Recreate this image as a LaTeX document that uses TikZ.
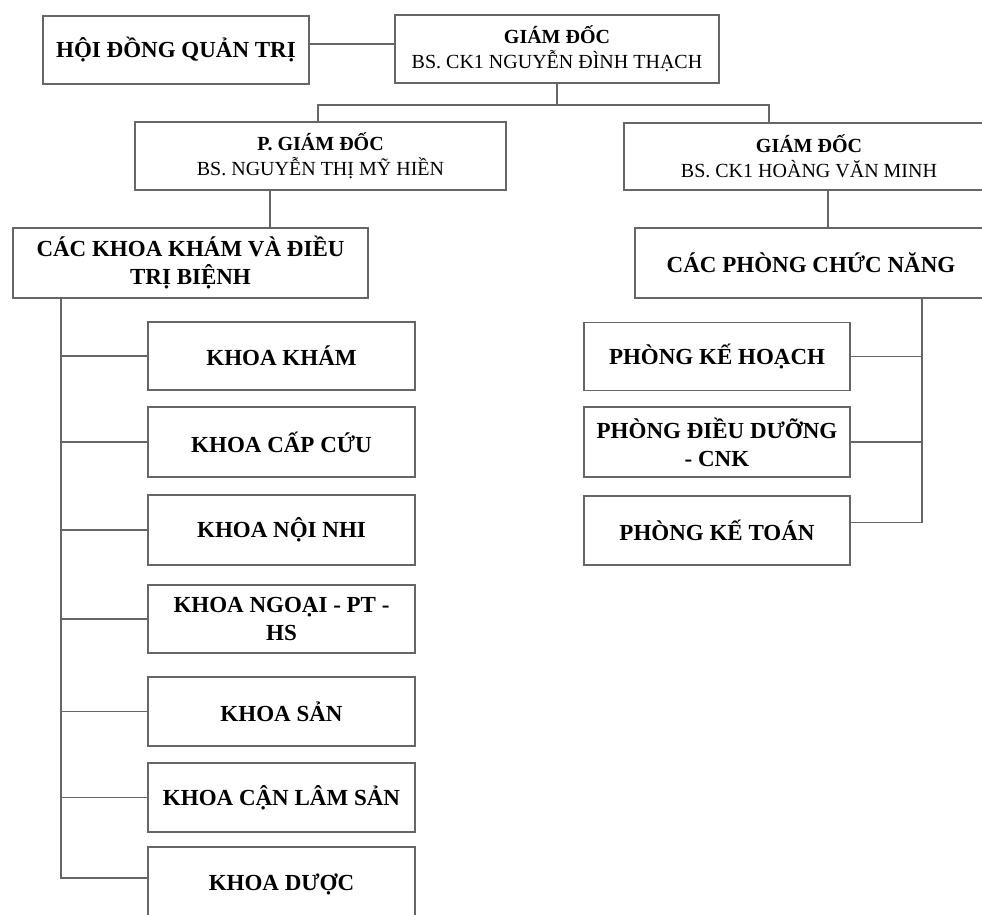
\documentclass[tikz,border=0pt]{standalone}
\usepackage{fontspec}
\setmainfont{Liberation Serif}
\tikzset{
  box/.style={draw=black!60, line width=1.3pt, inner sep=0pt, align=center, text=black},
  lead/.style={box, minimum height=68pt, font=\fontsize{20}{25}\selectfont},
  unit/.style={box, minimum width=267pt, minimum height=68pt, font=\fontsize{23}{28}\selectfont\bfseries},
  link/.style={draw=black!60, line width=1.3pt},
}
\begin{document}
\begin{tikzpicture}[x=1pt,y=-1pt]
        \useasboundingbox (0,0) rectangle (982,914);
        \clip (0,0) rectangle (982,914);

        \node[unit, minimum width=266pt] (hdqt) at (176,50) {HỘI ĐỒNG QUẢN TRỊ};
        \node[lead, minimum width=324pt] (gd) at (557,49) {\textbf{GIÁM ĐỐC}\\BS. CK1 NGUYỄN ĐÌNH THẠCH};
        \node[lead, minimum width=371pt] (pgd) at (320.5,156) {\textbf{P. GIÁM ĐỐC}\\BS. NGUYỄN THỊ MỸ HIỀN};
        \node[lead, minimum width=370pt, minimum height=67pt] (gd2) at (809,156.5) {\textbf{GIÁM ĐỐC}\\BS. CK1 HOÀNG VĂN MINH};

        \node[unit, minimum width=355pt, minimum height=70pt] (khoa) at (190.5,263) {CÁC KHOA KHÁM VÀ ĐIỀU\\TRỊ BIỆNH};
        \node[unit, minimum width=352pt, minimum height=70pt] (phong) at (811,263) {CÁC PHÒNG CHỨC NĂNG};

        % cac khoa
        \node[unit] (k1) at (281.5,356) {KHOA KHÁM};
        \node[unit, minimum height=70pt] (k2) at (281.5,442) {KHOA CẤP CỨU};
        \node[unit, minimum height=70pt] (k3) at (281.5,530) {KHOA NỘI NHI};
        \node[unit] (k4) at (281.5,619) {KHOA NGOẠI - PT -\\HS};
        \node[unit, minimum height=69pt] (k5) at (281.5,711.5) {KHOA SẢN};
        \node[unit, minimum height=69pt] (k6) at (281.5,797.5) {KHOA CẬN LÂM SẢN};
        \node[unit, minimum height=74pt] (k7) at (281.5,884) {KHOA DƯỢC};

        % cac phong
        \node[unit, minimum width=266pt] (p1) at (717,356.5) {PHÒNG KẾ HOẠCH};
        \node[unit, minimum width=266pt, minimum height=70pt] (p2) at (717,442) {PHÒNG ĐIỀU DƯỠNG\\- CNK};
        \node[unit, minimum width=266pt, minimum height=69pt] (p3) at (717,530.5) {PHÒNG KẾ TOÁN};

        \coordinate (busl) at (318,105);
        \coordinate (busr) at (769,105);
        \coordinate (kbus) at (61,298);
        \coordinate (pbus) at (922,298);

        \draw[link] ([yshift=6pt]hdqt.east) -- ([yshift=6pt]hdqt.east -| gd.west);
        \draw[link] (gd.south) -- (gd.south |- busl);
        \draw[link] (busl |- pgd.north) -- (busl) -- (busr) -- (busr |- gd2.north);
        \draw[link] ([xshift=19pt]gd2.south) -- ([xshift=17pt]phong.north);
        \draw[link] ([xshift=-50.5pt]pgd.south) -- ([xshift=79.5pt]khoa.north);

        \draw[link] (kbus) |- ([yshift=6pt]k7.west);
        \foreach \k in {k1,k2,k3,k4,k5,k6}
            \draw[link] (kbus |- \k.west) -- (\k.west);
        \draw[link] (pbus) |- ([yshift=8pt]p3.east);
        \foreach \p in {p1,p2}
            \draw[link] (pbus |- \p.east) -- (\p.east);

\end{tikzpicture}
\end{document}
